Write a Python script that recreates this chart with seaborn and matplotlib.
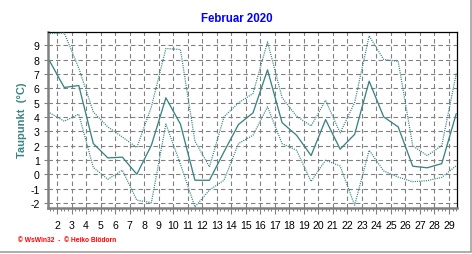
import numpy as np
import pandas as pd
import matplotlib
matplotlib.use("Agg")
import matplotlib.pyplot as plt
import seaborn as sns
from matplotlib.ticker import MultipleLocator

# ---- data ----
days = list(range(1, 30))
dew_mean = [7.88, 6.05, 6.19, 2.14, 1.14, 1.19, 0.0, 2.02, 5.33, 3.50,
            -0.42, -0.42, 1.56, 3.47, 4.28, 7.28, 3.60, 2.72, 1.30, 3.81,
            1.75, 2.78, 6.49, 4.00, 3.30, 0.56, 0.45, 0.74, 4.23]
dew_max = [9.81, 9.85, 7.40, 4.35, 3.30, 2.60, 1.86, 4.70, 8.77, 8.70,
           2.30, 0.51, 4.00, 4.98, 5.63, 9.23, 5.35, 4.05, 3.37, 5.15,
           2.88, 5.00, 9.65, 8.00, 7.88, 1.98, 1.30, 2.00, 7.02]
dew_min = [4.28, 3.70, 4.19, 0.47, -0.35, 0.28, -1.81, -1.98, 3.50, 0.70,
           -2.28, -1.10, -0.42, 2.14, 2.72, 4.70, 2.14, 1.67, -0.50, 0.98,
           0.57, -2.16, 1.67, 0.23, -0.20, -0.52, -0.45, -0.22, 0.60]
x_ticks = list(range(2, 30))
y_ticks = list(range(-2, 10))
title = "Februar 2020"
ylabel = "Taupunkt  (°C)"
credit = "© WsWin32  -  © Heiko Blödorn"

sns.set_theme(style="white")
plt.rcParams["font.family"] = ["Liberation Sans", "DejaVu Sans"]
plt.rcParams["lines.scale_dashes"] = False

teal = "#3b8484"
df = pd.DataFrame({"pos": np.array(days) + 0.5, "mean": dew_mean,
                   "max": dew_max, "min": dew_min})

W, H = 472, 255
fig = plt.figure(figsize=(W / 100, H / 100), dpi=100)
fig.patch.set_facecolor("white")
L, R, T, B = 48, 457, 33, 208.5
ax = fig.add_axes([L / W, 1 - B / H, (R - L) / W, (B - T) / H])
ax.set_facecolor("white")

sns.lineplot(data=df, x="pos", y="max", ax=ax, color=teal, lw=0.9,
             linestyle=(0, (0.8, 0.8)), zorder=3)
sns.lineplot(data=df, x="pos", y="min", ax=ax, color=teal, lw=0.9,
             linestyle=(0, (0.8, 0.8)), zorder=3)
sns.lineplot(data=df, x="pos", y="mean", ax=ax, color=teal, lw=0.95, zorder=4)

ax.set_xlim(1.38, 29.55)
ax.set_ylim(-2.32, 9.92)
ax.set_xticks(x_ticks)
ax.set_xticklabels([str(d) for d in x_ticks])
ax.set_yticks(y_ticks)
ax.set_yticklabels([str(v) for v in y_ticks])
ax.xaxis.set_minor_locator(MultipleLocator(0.25))
ax.grid(True, which="major", color="#808080", lw=0.8,
        linestyle=(0, (3.2, 2.2)), zorder=1)
ax.set_axisbelow(True)

for s in ["top", "right"]:
    ax.spines[s].set_color("black")
    ax.spines[s].set_linewidth(0.9)
for s in ["left", "bottom"]:
    ax.spines[s].set_color("#808080")
    ax.spines[s].set_linewidth(1.8)

ax.tick_params(axis="x", which="major", direction="out", length=4, width=0.8,
               color="#808080", labelsize=7.6, pad=5, labelcolor="black",
               bottom=True)
ax.tick_params(axis="x", which="minor", direction="out", length=2, width=0.7,
               color="#808080", bottom=True)
ax.tick_params(axis="y", which="major", direction="out", length=3, width=0.8,
               color="#808080", labelsize=7.6, pad=3, labelcolor="black",
               left=True)
ax.set_xlabel("")
ax.set_ylabel("")

fig.text(237 / W, 1 - 18.8 / H, title, color="#0000ff", fontsize=8.3,
         fontweight="bold", ha="center", va="center")
fig.text(22.5 / W, 1 - 120 / H, ylabel, color=teal, fontsize=8,
         fontweight="bold", rotation=90, ha="center", va="center")
fig.text(18 / W, 1 - 240.7 / H, credit, color="#ff0000", fontsize=4.8,
         fontweight="bold", ha="left", va="center")

# light grey outer frame (right and bottom edges)
fig.add_artist(plt.Line2D([0, 470.5 / W], [1 - 253 / H, 1 - 253 / H],
                          transform=fig.transFigure, color="#a0a0a0", lw=1.2))
fig.add_artist(plt.Line2D([470.5 / W, 470.5 / W], [1 - 253 / H, 1],
                          transform=fig.transFigure, color="#a0a0a0", lw=1.2))

fig.savefig("out.png", dpi=100, facecolor="white")
